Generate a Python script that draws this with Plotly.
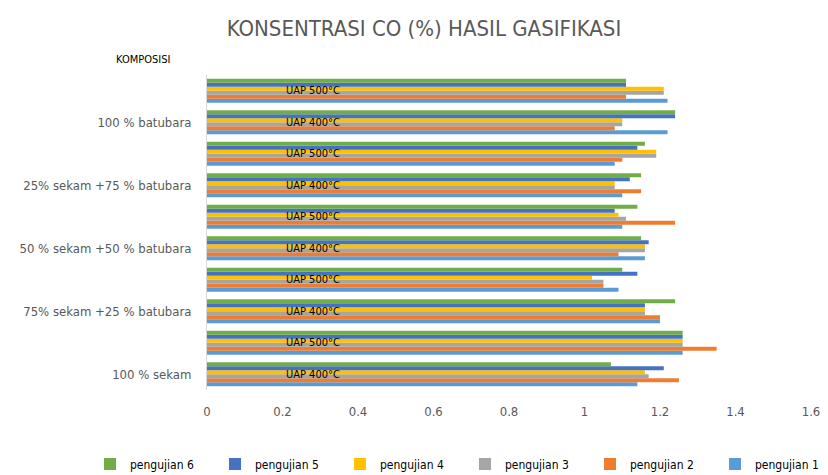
import plotly.graph_objects as go

compositions = ["100 % sekam", "75% sekam +25 % batubara", "50 % sekam +50 % batubara",
                "25% sekam +75 % batubara", "100 % batubara"]
temps = ["UAP 400°C", "UAP 500°C"]
# categories from bottom to top
categories = [c + "|" + t for c in compositions for t in temps]

series_names = ["pengujian 1", "pengujian 2", "pengujian 3", "pengujian 4", "pengujian 5", "pengujian 6"]
colors = ["#5B9BD5", "#ED7D31", "#A5A5A5", "#FFC000", "#4472C4", "#70AD47"]

# values per category (bottom to top), per series
p1 = [1.14, 1.26, 1.20, 1.09, 1.16, 1.10, 1.10, 1.08, 1.22, 1.22]
p2 = [1.25, 1.35, 1.20, 1.05, 1.09, 1.24, 1.15, 1.10, 1.08, 1.11]
p3 = [1.17, 1.26, 1.16, 1.05, 1.16, 1.11, 1.08, 1.19, 1.10, 1.21]
p4 = [1.16, 1.26, 1.16, 1.02, 1.16, 1.09, 1.08, 1.19, 1.10, 1.21]
p5 = [1.21, 1.26, 1.16, 1.14, 1.17, 1.08, 1.12, 1.14, 1.24, 1.11]
p6 = [1.07, 1.26, 1.24, 1.10, 1.15, 1.14, 1.15, 1.16, 1.24, 1.11]
series_values = [p1, p2, p3, p4, p5, p6]

x_ticks = [0, 0.2, 0.4, 0.6, 0.8, 1, 1.2, 1.4, 1.6]
x_ticktext = ["0", "0.2", "0.4", "0.6", "0.8", "1", "1.2", "1.4", "1.6"]

FONT = "DejaVu Sans Condensed, Liberation Sans Narrow, sans-serif"

# page body has an 8px margin: figure origin sits at (8, 8) of the window
OFF = 8
W, H = 820 - OFF, 475 - OFF
L, T = 207 - OFF, 75 - OFF
R = W - (811 - OFF)
B = H - (390 - OFF)
PW, PH = W - L - R, H - T - B

fig = go.Figure()
for name, vals, col in zip(series_names, series_values, colors):
    fig.add_trace(go.Bar(
        y=categories, x=vals, name=name, orientation="h",
        marker=dict(color=col, line=dict(width=0)),
    ))

for cat in categories:
    t = cat.split("|")[1]
    fig.add_annotation(x=0.28, y=cat, text=t, showarrow=False,
                       xref="x", yref="y", xanchor="center", yanchor="middle",
                       font=dict(family=FONT, size=11, color="#000000"))

fig.add_annotation(xref="paper", yref="paper",
                   x=(143 - OFF - L) / PW, y=(H - B - (60 - OFF)) / PH,
                   xanchor="center", yanchor="middle",
                   text="KOMPOSISI", showarrow=False,
                   font=dict(family=FONT, size=11, color="#000000"))

fig.update_layout(
    width=W, height=H,
    barmode="group", bargap=0.24, bargroupgap=0,
    margin=dict(l=L, r=R, t=T, b=B, autoexpand=False),
    paper_bgcolor="white", plot_bgcolor="white",
    title=dict(text="KONSENTRASI CO (%) HASIL GASIFIKASI", x=(424 - OFF) / W, xanchor="center",
               y=1 - (28 - OFF) / H, yanchor="middle",
               font=dict(family=FONT, size=22, color="#595959")),
    font=dict(family=FONT, size=13, color="#595959"),
    legend=dict(orientation="h", traceorder="reversed",
                xref="paper", yref="paper",
                x=(90 - 207) / PW, xanchor="left",
                y=-(464 - 390) / PH, yanchor="middle", entrywidth=80,
                font=dict(family=FONT, size=12, color="#000000")),
    xaxis=dict(range=[0, 1.6], tickvals=x_ticks, ticktext=x_ticktext,
               showgrid=False, zeroline=False, showline=False, automargin=False,
               ticklabelstandoff=12, ticklabeloverflow="allow",
               tickfont=dict(family=FONT, size=13, color="#595959")),
    yaxis=dict(type="category", categoryorder="array", categoryarray=categories,
               tickvals=[c for c in categories if c.endswith("400°C")],
               ticktext=compositions, showgrid=False, zeroline=False, automargin=False,
               showline=True, linecolor="#D9D9D9", linewidth=1, ticks="",
               ticklabelstandoff=12,
               tickfont=dict(family=FONT, size=13, color="#595959")),
)

fig.write_html("out.html")
